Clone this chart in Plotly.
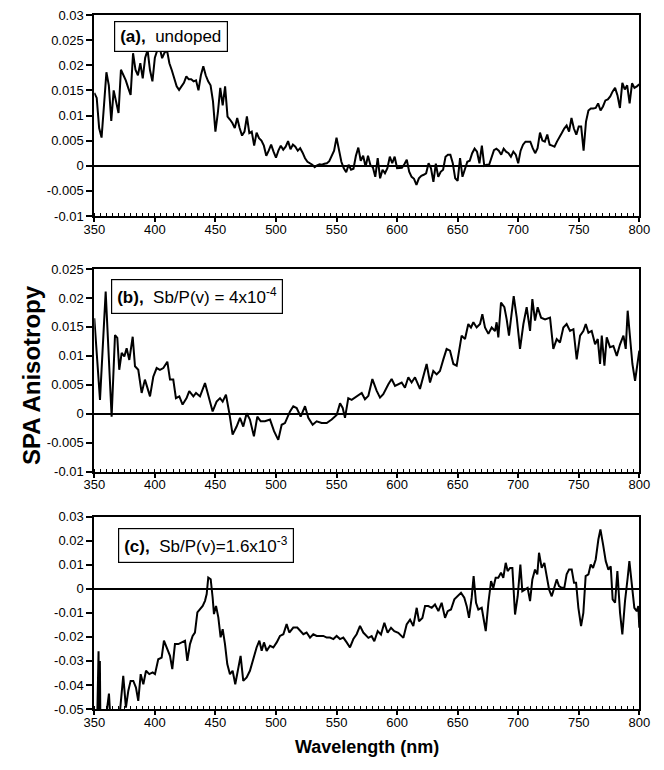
import plotly.graph_objects as go

# ---------------- data ----------------
wl_a = list(range(350, 801, 2))
spa_a = [
    0.0145, 0.0135, 0.0075, 0.0056, 0.012, 0.0186, 0.016, 0.0089, 0.015, 0.013,
    0.0105, 0.0191, 0.018, 0.017, 0.0155, 0.0141, 0.0224, 0.0191, 0.018, 0.0204,
    0.0174, 0.0215, 0.023, 0.019, 0.0168, 0.0215, 0.023, 0.0235, 0.0214, 0.0225,
    0.023, 0.0204, 0.019, 0.0175, 0.0158, 0.0151, 0.0158, 0.0165, 0.0178, 0.0172,
    0.0172, 0.0168, 0.017, 0.015, 0.018, 0.0198, 0.018, 0.0168, 0.016, 0.0128,
    0.0068, 0.0105, 0.0155, 0.012, 0.0158, 0.0098, 0.0092, 0.0085, 0.0075, 0.0095,
    0.0075, 0.006, 0.0068, 0.0098, 0.0065, 0.0068, 0.004, 0.0066, 0.0055, 0.005,
    0.004, 0.002, 0.003, 0.0042, 0.0028, 0.0016, 0.003, 0.004, 0.0032, 0.0038,
    0.0049, 0.0033, 0.0042, 0.0038, 0.003, 0.0035, 0.0026, 0.0015, 0.0008, 0.0005,
    0.0002, -0.0003, 0.0001, 0.0003, 0.0002, 0.0004, 0.0005, 0.0009, 0.0018, 0.003,
    0.0056, 0.0028, 0.0008, -0.0005, -0.0013, 0.0002, -0.0008, -0.0006, 0.002, 0.0036,
    0.001, 0.002, -0.0002, 0.002, 0.0001, -0.0003, -0.0022, 0.0015, -0.0025, -0.0008,
    -0.0015, -0.0005, 0.0018, 0.0005, 0.0018, -0.0005, -0.0005, -0.0004, 0.0003, 0.0012,
    -0.0012, -0.0022, -0.0026, -0.0038, -0.0025, -0.002, -0.0018, -0.0015, 0.0005, -0.0005,
    -0.0032, 0.0004, -0.0022, -0.0012, -0.0008, 0.0018, 0.0022, 0.0022, 0.0005, -0.0025,
    -0.003, 0.0015, -0.0022, -0.0005, 0.0008, 0.001, 0.0025, 0.0034, 0.0028, 0.0005,
    0.004, 0.0, 0.0002, 0.0002, 0.0015, 0.0031, 0.0034, 0.003, 0.0022, 0.0034,
    0.0028, 0.0025, 0.0018, 0.0028, 0.0022, 0.0005, 0.003, 0.0042, 0.0048, 0.0048,
    0.0048, 0.0035, 0.0025, 0.0035, 0.0066, 0.005, 0.0048, 0.0062, 0.0042, 0.004,
    0.0038, 0.0048, 0.0058, 0.0065, 0.0074, 0.008, 0.0068, 0.0095, 0.0074, 0.0062,
    0.0078, 0.0078, 0.003, 0.0088, 0.011, 0.0114, 0.0114, 0.0115, 0.0124, 0.011,
    0.0118, 0.013, 0.0132, 0.0138, 0.0148, 0.0155, 0.014, 0.0115, 0.0165, 0.0152,
    0.016, 0.0124, 0.0164, 0.0155, 0.0158, 0.0162,
]

wl_b = [
    350, 354.7, 359.4, 364.3, 367.1, 369, 370.6, 372.6, 374.8, 376.7, 378.9, 381.7,
    383.6, 386.3, 389.1, 391.8, 396, 398.7, 401.5, 404.2, 407, 410.3, 412.5, 415.2,
    417.4, 420.2, 422.9, 426.2, 428.4, 431.8, 434, 437.3, 441.4, 444.1, 447.7, 451,
    453.8, 456, 458.7, 461.5, 464.2, 467.5, 470.3, 473, 475.8, 478.5, 481.8, 484.6,
    487.4, 490.9, 495.1, 498.4, 501.9, 504.7, 507.4, 511.6, 514.3, 517.1, 520.4, 524,
    526.7, 530.3, 533.6, 537.7, 541.9, 546, 550.1, 552.9, 555.1, 557, 559.7, 562.5,
    566.6, 570.8, 573.5, 576.3, 579.6, 583.1, 585.9, 588.6, 592.8, 595.5, 598.3, 601,
    603.8, 606.5, 609.3, 612, 614.8, 618.9, 621.7, 624.4, 627.2, 629.9, 632.7, 635.4,
    638.2, 640.9, 643.7, 646.5, 649.2, 651.4, 653.3, 656.1, 658.8, 661, 663, 665.7,
    668.5, 670.4, 672.6, 675.4, 678.1, 680.9, 682.2, 683.6, 685.8, 688.6, 690.5, 692.4,
    694.6, 696.3, 698.8, 701.5, 704.3, 707, 709.8, 711.7, 713.9, 716.1, 718.9, 722.2,
    726.3, 729, 731.8, 734.5, 737.3, 740, 742.8, 745.6, 748.3, 751.1, 753.8, 755.8,
    758, 760.7, 763.5, 765.7, 767.6, 769, 771.2, 773.1, 775.8, 778.6, 781.4, 784.1,
    786.9, 788.8, 790.4, 792.4, 794.3, 796.5, 798.7, 800,
]
spa_b = [
    0.0165, 0.0024, 0.0211, -0.0005, 0.0136, 0.0131, 0.0076, 0.0105, 0.0099, 0.0113, 0.0093, 0.0133,
    0.0082, 0.0076, 0.0036, 0.0059, 0.0030, 0.0064, 0.0079, 0.0076, 0.0079, 0.0090, 0.0059, 0.0059,
    0.0027, 0.0030, 0.0016, 0.0027, 0.0039, 0.0030, 0.0036, 0.0030, 0.0053, 0.0030, 0.0004, 0.0021,
    0.0027, 0.0021, 0.0033, 0.0001, -0.0036, -0.0022, -0.0007, -0.0022, 0.0001, -0.0010, -0.0039, -0.0005,
    -0.0013, -0.0013, -0.0010, -0.0030, -0.0045, -0.0019, -0.0016, 0.0004, 0.0013, 0.0010, -0.0005, 0.0013,
    -0.0007, -0.0019, -0.0013, -0.0016, -0.0016, -0.0010, -0.0002, 0.0018, 0.0010, -0.0007, 0.0027, 0.0024,
    0.0030, 0.0036, 0.0025, 0.0031, 0.0060, 0.0040, 0.0028, 0.0034, 0.0051, 0.0060, 0.0048, 0.0051,
    0.0054, 0.0045, 0.0063, 0.0054, 0.0063, 0.0043, 0.0063, 0.0086, 0.0054, 0.0074, 0.0068, 0.0074,
    0.0094, 0.0112, 0.0109, 0.0086, 0.0083, 0.0115, 0.0135, 0.0129, 0.0155, 0.0149, 0.0158, 0.0149,
    0.0155, 0.0172, 0.0149, 0.0138, 0.0149, 0.0143, 0.0158, 0.0132, 0.0192, 0.0184, 0.0163, 0.0135,
    0.0178, 0.0203, 0.0166, 0.0112, 0.0155, 0.0184, 0.0143, 0.0198, 0.0161, 0.0184, 0.0166, 0.0163,
    0.0166, 0.0112, 0.0129, 0.0123, 0.0149, 0.0155, 0.0143, 0.0146, 0.0094, 0.0135, 0.0143, 0.0155,
    0.0140, 0.0143, 0.0120, 0.0129, 0.0086, 0.0135, 0.0083, 0.0132, 0.0115, 0.0117, 0.0100, 0.0120,
    0.0135, 0.0112, 0.0178, 0.0132, 0.0086, 0.0057, 0.0086, 0.0109,
]

wl_c = [
    350, 352, 353.5, 354.1, 354.6, 355.2, 358, 362.1, 364, 368, 371, 373.9,
    376.1, 378.1, 380, 382.2, 384.4, 386.3, 388.3, 390.5, 392.7, 395.4, 398.2, 400.1,
    402.8, 405.6, 407.5, 410.3, 412.5, 414.4, 416.6, 419.4, 422.1, 424.9, 426.8, 429,
    431.2, 433.1, 435.1, 437.3, 439.5, 441.4, 442.8, 444.1, 446.1, 447.7, 448.8, 450.5,
    452.4, 454.3, 456, 457.9, 459.8, 462, 464.2, 466.4, 468.9, 470.8, 473, 475.8,
    478.5, 481.3, 484, 486.3, 488.2, 490.1, 492.3, 495.1, 497.8, 500.6, 503.3, 506.1,
    508.8, 511, 514.3, 517.6, 519.8, 522.6, 525.3, 528.1, 530.8, 533.6, 536.3, 539.1,
    541.9, 544.6, 547.4, 550.1, 552.9, 555.6, 558.4, 561.1, 563.9, 566.6, 569.4, 572.1,
    576.3, 579, 581.2, 584, 586.7, 589.5, 592.2, 595, 597.7, 601, 605.2, 607.9,
    610.7, 613.4, 616.2, 618.1, 620.9, 623.1, 625.8, 628.6, 631.3, 634.1, 636.8, 639.6,
    641.8, 644.5, 647.3, 650, 652.8, 655.5, 657.5, 659.4, 661.6, 663.2, 665.2, 667.1,
    669.9, 671.8, 673.2, 675.4, 677.6, 679.5, 681.4, 683.6, 685.8, 687.7, 689.7, 691.3,
    693.3, 695.2, 697.4, 699.6, 701.8, 703.4, 705.6, 707.8, 709.8, 711.7, 713.9, 715.8,
    717.2, 719.4, 721.6, 723.5, 725.5, 727.7, 729.9, 731.8, 733.7, 735.9, 738.1, 740,
    742, 744.2, 746.1, 747.8, 749.7, 751.9, 753.8, 755.7, 758, 759.9, 761.8, 764,
    766.2, 767.9, 770.1, 772.3, 774.5, 776.4, 778, 780, 781.9, 784.1, 786, 788.2,
    790.4, 791.8, 793.7, 795.9, 797.9, 799.2, 800,
]
spa_c = [
    -0.060, -0.065, -0.026, -0.060, -0.030, -0.065, -0.060, -0.0436, -0.060, -0.060, -0.052, -0.0362,
    -0.0494, -0.0424, -0.0383, -0.0383, -0.0411, -0.0466, -0.0355, -0.0397, -0.0341, -0.0355, -0.0348, -0.0355,
    -0.0293, -0.0286, -0.0216, -0.0251, -0.0279, -0.0334, -0.0230, -0.0230, -0.0223, -0.0216, -0.0300, -0.0230,
    -0.0196, -0.0182, -0.0098, -0.0085, -0.0071, -0.0050, -0.0022, 0.0047, 0.0040, -0.0036, -0.0105, -0.0071,
    -0.0119, -0.0202, -0.0168, -0.0230, -0.0313, -0.0355, -0.0341, -0.0397, -0.0327, -0.0279, -0.0383, -0.0369,
    -0.0341, -0.0286, -0.0244, -0.0216, -0.0258, -0.0223, -0.0258, -0.0237, -0.0244, -0.0223, -0.0196, -0.0189,
    -0.0147, -0.0182, -0.0161, -0.0161, -0.0175, -0.0189, -0.0182, -0.0203, -0.0189, -0.0196, -0.0196, -0.0196,
    -0.0203, -0.0203, -0.0209, -0.0196, -0.0209, -0.0203, -0.0223, -0.0244, -0.0209, -0.0189, -0.0154, -0.0182,
    -0.0204, -0.0197, -0.0218, -0.0176, -0.0190, -0.0141, -0.0183, -0.0162, -0.0176, -0.0183, -0.0204, -0.0148,
    -0.0128, -0.0155, -0.0079, -0.0135, -0.0121, -0.0072, -0.0072, -0.0079, -0.0065, -0.0093, -0.0058, -0.0121,
    -0.0093, -0.0086, -0.0044, -0.0031, -0.0017, -0.0037, -0.0072, -0.0121, -0.0037, 0.0053, -0.0058, -0.0086,
    -0.0079, -0.0135, -0.0176, -0.0058, 0.0032, 0.0004, 0.0046, 0.0046, 0.0067, 0.0046, 0.0108, 0.0074,
    0.0087, 0.0087, -0.0107, -0.0031, 0.0101, -0.0010, -0.0003, 0.0004, -0.0051, 0.0039, 0.0080, 0.0060,
    0.0150, 0.0087, 0.0108, 0.0046, -0.0003, -0.0031, 0.0004, 0.0039, 0.0011, 0.0004, 0.0004, 0.0060,
    0.0080, 0.0080, 0.0025, 0.0025, -0.0079, -0.0155, -0.0100, 0.0053, 0.0060, 0.0101, 0.0087, 0.0122,
    0.0205, 0.0247, 0.0184, 0.0115, 0.0080, 0.0094, -0.0044, -0.0058, 0.0074, -0.0100, -0.0190, -0.0051,
    0.0046, 0.0115, 0.0025, -0.0079, -0.0093, -0.0072, -0.0162,
]

x_ticks = [350, 400, 450, 500, 550, 600, 650, 700, 750, 800]
x_ticktext = ["350", "400", "450", "500", "550", "600", "650", "700", "750", "800"]
y_ticks_a = [0.03, 0.025, 0.02, 0.015, 0.01, 0.005, 0, -0.005, -0.01]
y_text_a = ["0.03", "0.025", "0.02", "0.015", "0.01", "0.005", "0", "-0.005", "-0.01"]
y_ticks_b = [0.025, 0.02, 0.015, 0.01, 0.005, 0, -0.005, -0.01]
y_text_b = ["0.025", "0.02", "0.015", "0.01", "0.005", "0", "-0.005", "-0.01"]
y_ticks_c = [0.03, 0.02, 0.01, 0, -0.01, -0.02, -0.03, -0.04, -0.05]
y_text_c = ["0.03", "0.02", "0.01", "0", "-0.01", "-0.02", "-0.03", "-0.04", "-0.05"]

labels = [
    "<b>(a),</b>  undoped",
    "<b>(b),</b>  Sb/P(v) = 4x10<sup>-4</sup>",
    "<b>(c),</b>  Sb/P(v)=1.6x10<sup>-3</sup>",
]
y_title = "SPA Anisotropy"
x_title = "Wavelength (nm)"

# ---------------- layout geometry ----------------
# The page body has an 8px default margin, so the figure is drawn 8px
# right/down of the window origin; positions below are window pixels.
OFF = 8
W, H = 664 - OFF, 770 - 2 * OFF
FONT = "Arial, 'Liberation Sans', sans-serif"


def px(x):
    return (x - OFF) / W


def py(y):
    return 1 - (y - OFF) / H


x_dom = [px(94.3), px(639.3)]
panels = [
    dict(top=15, bot=216, rng=[-0.01, 0.03], tv=y_ticks_a, tt=y_text_a, wl=wl_a, v=spa_a,
         box=(114, 21)),
    dict(top=269, bot=471.7, rng=[-0.01, 0.025], tv=y_ticks_b, tt=y_text_b, wl=wl_b, v=spa_b,
         box=(111, 279)),
    dict(top=516.7, bot=709, rng=[-0.05, 0.03], tv=y_ticks_c, tt=y_text_c, wl=wl_c, v=spa_c,
         box=(118, 528)),
]

fig = go.Figure()
layout = dict(
    width=W, height=H,
    margin=dict(l=0, r=0, t=0, b=0, pad=0, autoexpand=False),
    paper_bgcolor="white", plot_bgcolor="white",
    showlegend=False,
    font=dict(family=FONT, color="black", size=13),
    annotations=[],
)

for i, p in enumerate(panels, start=1):
    xa = "x" if i == 1 else f"x{i}"
    ya = "y" if i == 1 else f"y{i}"
    fig.add_trace(go.Scatter(
        x=p["wl"], y=p["v"], mode="lines", xaxis=xa, yaxis=ya,
        line=dict(color="black", width=2), hoverinfo="skip",
    ))
    layout["xaxis" if i == 1 else f"xaxis{i}"] = dict(
        domain=x_dom, anchor=ya, range=[350, 800],
        tickvals=x_ticks, ticktext=x_ticktext,
        ticks="outside", ticklen=4, tickwidth=1.5, tickcolor="black",
        ticklabelstandoff=-4, ticklabeloverflow="allow",
        minor=dict(dtick=5, tick0=350, ticks="inside", ticklen=3, tickwidth=1, tickcolor="black"),
        showline=True, linecolor="black", linewidth=2, mirror=True,
        showgrid=False, zeroline=False, automargin=False,
        tickfont=dict(family=FONT, size=13, color="black"),
    )
    layout["yaxis" if i == 1 else f"yaxis{i}"] = dict(
        domain=[py(p["bot"]), py(p["top"])], anchor=xa, range=p["rng"],
        tickvals=p["tv"], ticktext=p["tt"], ticklabeloverflow="allow",
        ticks="outside", ticklen=6, tickwidth=1.5, tickcolor="black",
        showline=True, linecolor="black", linewidth=2, mirror=True,
        showgrid=False, zeroline=True, zerolinecolor="black", zerolinewidth=1.5,
        automargin=False,
        tickfont=dict(family=FONT, size=13, color="black"),
    )
    bx, by = p["box"]
    layout["annotations"].append(dict(
        xref="paper", yref="paper", x=px(bx), y=py(by),
        xanchor="left", yanchor="top", showarrow=False,
        text=labels[i - 1], font=dict(family=FONT, size=17, color="black"),
        bordercolor="black", borderwidth=1.2, borderpad=5, bgcolor="white",
    ))

layout["annotations"].append(dict(
    xref="paper", yref="paper", x=px(31), y=py(375), textangle=-90,
    xanchor="center", yanchor="middle",
    showarrow=False, text=f"<b>{y_title}</b>",
    font=dict(family=FONT, size=24, color="black"),
))
layout["annotations"].append(dict(
    xref="paper", yref="paper", x=px(367), y=py(747),
    xanchor="center", yanchor="middle",
    showarrow=False, text=f"<b>{x_title}</b>",
    font=dict(family=FONT, size=18, color="black"),
))

fig.update_layout(**layout)
fig.write_html("out.html")
